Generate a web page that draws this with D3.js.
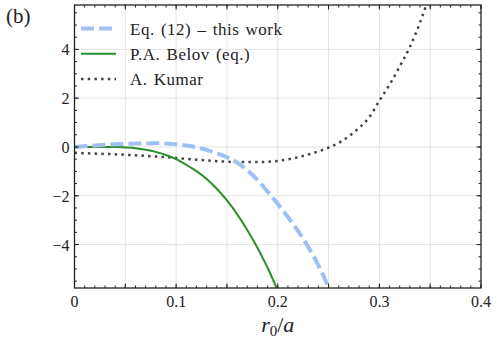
<!DOCTYPE html>
<html><head><meta charset="utf-8">
<script src="https://cdn.jsdelivr.net/npm/d3@7"></script>
<style>body{margin:0;background:#fff}svg{display:block}</style>
</head><body>
<script>
// ---- data ----
const xEq12 = [0,0.02,0.04,0.06,0.08,0.10,0.11,0.12,0.13,0.14,0.15,0.16,0.17,0.18,0.19,0.20,0.21,0.22,0.23,0.24,0.25];
const yEq12 = [0,0.06,0.11,0.14,0.15,0.11,0.06,-0.01,-0.12,-0.26,-0.42,-0.64,-0.95,-1.35,-1.83,-2.33,-2.87,-3.45,-4.10,-4.85,-5.75];
const xBelov = [0,0.02,0.04,0.05,0.06,0.07,0.08,0.09,0.10,0.11,0.12,0.13,0.14,0.15,0.16,0.17,0.18,0.19,0.20];
const yBelov = [0,0,0,-0.02,-0.05,-0.11,-0.20,-0.33,-0.50,-0.73,-0.99,-1.31,-1.71,-2.19,-2.75,-3.40,-4.13,-4.95,-5.88];
const xKumar = [0,0.02,0.04,0.06,0.08,0.10,0.12,0.14,0.16,0.18,0.20,0.22,0.24,0.25,0.26,0.27,0.28,0.29,0.30,0.31,0.32,0.33,0.34,0.346];
const yKumar = [-0.24,-0.27,-0.30,-0.34,-0.39,-0.45,-0.52,-0.58,-0.62,-0.62,-0.57,-0.42,-0.18,-0.03,0.17,0.44,0.78,1.22,1.90,2.55,3.30,4.10,5.10,5.80];
const seriesNames = ["Eq. (12) \u2013 this work","P.A. Belov (eq.)","A. Kumar"];
const xTickLabels = ["0","0.1","0.2","0.3","0.4"];
const yTickLabels = ["\u22124","\u22122","0","2","4"];
const xTicks = [0,0.1,0.2,0.3,0.4];
const yTicks = [-4,-2,0,2,4];

const W=498,H=344;
const m={l:74.5,r:481,t:5,b:288};
const svg=d3.select("body").append("svg").attr("width",W).attr("height",H);
const x=d3.scaleLinear().domain([0,0.4]).range([m.l,m.r]);
const y=d3.scaleLinear().domain([-5.78,5.82]).range([m.b,m.t]);
const font="'Liberation Serif','DejaVu Serif',serif";

// grid
const gx=d3.range(0.05,0.4,0.05);
svg.append("g").selectAll("line").data(gx).join("line")
 .attr("x1",d=>x(d)).attr("x2",d=>x(d)).attr("y1",m.t).attr("y2",m.b)
 .attr("stroke","#e4e4e4").attr("stroke-width",1);
svg.append("g").selectAll("line").data(yTicks).join("line")
 .attr("y1",d=>y(d)).attr("y2",d=>y(d)).attr("x1",m.l).attr("x2",m.r)
 .attr("stroke","#e4e4e4").attr("stroke-width",1);

// clip
svg.append("clipPath").attr("id","c").append("rect").attr("x",m.l).attr("y",m.t).attr("width",m.r-m.l).attr("height",m.b-m.t);
const line=d3.line().curve(d3.curveMonotoneX);
function draw(xs,ys,attrs){
  const p=svg.append("path").attr("clip-path","url(#c)").attr("fill","none")
   .attr("d",line(xs.map((v,i)=>[x(v),y(ys[i])])));
  for(const k in attrs)p.attr(k,attrs[k]);
}
const sBlue={stroke:"#a0bff3","stroke-width":4,"stroke-dasharray":"13,5"};
const sGreen={stroke:"#2a8f2a","stroke-width":2};
const sGray={stroke:"#444","stroke-width":2.5,"stroke-dasharray":"2.5,4.2"};
draw(xKumar,yKumar,sGray);
draw(xBelov,yBelov,sGreen);
draw(xEq12,yEq12,sBlue);

// axes with inward ticks (all four sides)
function axes(){
  const g=svg.append("g").attr("stroke","#222").attr("stroke-width",1);
  const xmaj=d3.range(0,0.4001,0.05), xmin=d3.range(0,0.4001,0.01);
  const ymaj=yTicks, ymin=d3.range(-5.5,5.51,0.5);
  const tk=(arr,len)=>{
    arr.forEach(v=>{
      g.append("line").attr("x1",x(v)).attr("x2",x(v)).attr("y1",m.b).attr("y2",m.b-len);
      g.append("line").attr("x1",x(v)).attr("x2",x(v)).attr("y1",m.t).attr("y2",m.t+len);
    });
  };
  const tky=(arr,len)=>{
    arr.forEach(v=>{
      g.append("line").attr("y1",y(v)).attr("y2",y(v)).attr("x1",m.l).attr("x2",m.l+len);
      g.append("line").attr("y1",y(v)).attr("y2",y(v)).attr("x1",m.r).attr("x2",m.r-len);
    });
  };
  tk(xmin,2.5); tk(xmaj,4.5); tky(ymin,2.5); tky(ymaj,4.5);
  svg.append("rect").attr("x",m.l).attr("y",m.t).attr("width",m.r-m.l).attr("height",m.b-m.t)
   .attr("fill","none").attr("stroke","#222").attr("stroke-width",1.3);
}
axes();

// tick labels
svg.append("g").selectAll("text").data(xTicks).join("text")
 .attr("x",d=>x(d)).attr("y",m.b+19).attr("text-anchor","middle")
 .attr("font-family",font).attr("font-size",16).attr("fill","#222").text((d,i)=>xTickLabels[i]);
svg.append("g").selectAll("text").data(yTicks).join("text")
 .attr("x",m.l-5).attr("y",d=>y(d)+6).attr("text-anchor","end")
 .attr("font-family",font).attr("font-size",16).attr("fill","#222").text((d,i)=>yTickLabels[i]);

// x label
const xl=svg.append("text").attr("x",x(0.2)).attr("y",332).attr("text-anchor","middle")
 .attr("font-family",font).attr("font-size",22).attr("fill","#222");
xl.append("tspan").attr("font-style","italic").text("r");
xl.append("tspan").attr("font-size",15).attr("dy",4).text("0");
xl.append("tspan").attr("dy",-4).text("/");
xl.append("tspan").attr("font-style","italic").text("a");

// panel label
svg.append("text").attr("x",6).attr("y",23).attr("font-family",font).attr("font-size",21).attr("fill","#222").text("(b)");

// legend
const leg=[sBlue,sGreen,sGray];
leg.forEach((s,i)=>{
  const yy=28.5+i*25.3;
  const l=svg.append("line").attr("x1",81).attr("x2",116).attr("y1",yy).attr("y2",yy);
  for(const k in s)l.attr(k,s[k]);
  svg.append("text").attr("x",130).attr("y",yy+6).attr("font-family",font).attr("font-size",17)
   .attr("letter-spacing",0.5).attr("word-spacing",1.5)
   .attr("fill","#222").text(seriesNames[i]);
});
</script>
</body></html>
